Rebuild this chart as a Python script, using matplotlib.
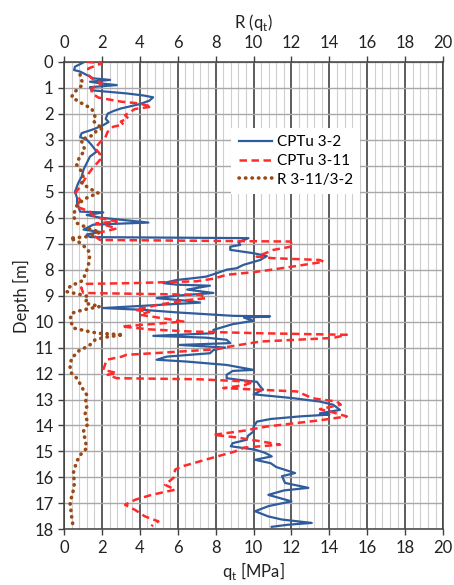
import numpy as np
import matplotlib
matplotlib.use('Agg')
import matplotlib.pyplot as plt
from matplotlib.lines import Line2D
from matplotlib.ticker import MultipleLocator

plt.rcParams['font.family'] = ['Lato', 'DejaVu Sans']

# CPTu 3-2: depth [m], q_t [MPa]
cptu32_depth = [0.0, 0.04, 0.19, 0.32, 0.38, 0.64, 0.70, 0.77, 0.84, 0.90, 0.98, 1.10, 1.22, 1.30,
                1.37, 1.50, 1.63, 1.80, 1.90, 2.00, 2.20, 2.32, 2.45, 2.60, 2.75, 2.90, 3.00, 3.20,
                3.46, 3.65, 3.90, 4.15, 4.42, 4.67, 5.00, 5.25, 5.45, 5.77, 5.80, 5.90, 6.00, 6.19,
                6.27, 6.46, 6.55, 6.65, 6.75, 6.79, 6.95, 7.05, 7.12, 7.24, 7.37, 7.48, 7.63, 7.82,
                7.95, 8.00, 8.14, 8.27, 8.33, 8.40, 8.52, 8.58, 8.62, 8.77, 8.90, 9.00, 9.10, 9.20,
                9.27, 9.48, 9.55, 9.65, 9.78, 9.80, 9.85, 9.97, 10.10, 10.32, 10.45, 10.55, 10.62,
                10.70, 10.83, 10.90, 11.00, 11.10, 11.22, 11.35, 11.47, 11.54, 11.67, 11.86, 11.90,
                12.05, 12.18, 12.25, 12.32, 12.50, 12.62, 12.80, 12.95, 13.08, 13.20, 13.40, 13.53,
                13.58, 13.65, 13.75, 13.85, 14.04, 14.23, 14.40, 14.55, 14.68, 14.80, 14.93, 15.05,
                15.19, 15.32, 15.45, 15.60, 15.83, 15.95, 16.21, 16.40, 16.50, 16.67, 16.92, 17.10,
                17.30, 17.50, 17.62, 17.75, 17.82, 17.90]
cptu32_qt = [0.95, 1.0, 0.58, 0.53, 0.85, 1.55, 2.43, 1.37, 2.0, 2.78, 1.37, 1.45, 3.3, 4.2,
             4.7, 4.5, 4.0, 3.0, 2.6, 2.3, 2.2, 2.35, 2.05, 1.55, 0.93, 0.85, 1.2, 1.45,
             1.72, 1.37, 1.2, 1.03, 0.93, 0.75, 0.58, 0.69, 0.69, 0.85, 2.07, 1.2, 1.9, 4.45,
             1.55, 1.03, 1.9, 1.2, 1.37, 9.73, 9.2, 9.3, 8.77, 8.77, 10.0, 10.7, 10.35, 9.46,
             9.1, 8.6, 8.05, 7.5, 6.83, 5.95, 5.24, 5.95, 7.7, 6.5, 7.88, 6.0, 4.9, 6.5,
             7.18, 2.07, 4.18, 6.0, 8.93, 10.87, 9.5, 10.0, 8.9, 7.88, 7.88, 4.71, 7.5,
             8.58, 8.77, 6.1, 8.5, 7.88, 7.7, 5.42, 4.89, 6.47, 8.58, 10.0, 8.9,
             8.58, 8.58, 9.3, 10.18, 10.35, 10.5, 10.0, 12.1, 13.5, 14.2, 14.56, 13.5,
             14.0, 12.45, 10.9, 10.18, 10.0, 10.0, 9.7, 9.64, 8.9, 8.8, 10.08, 10.6,
             10.96, 10.08, 10.9, 11.2, 12.19, 11.5, 11.66, 12.89, 11.6, 10.78, 12.0, 10.8,
             10.08, 10.78, 11.5, 13.07, 11.8, 10.96]

# CPTu 3-11: depth [m], q_t [MPa]
cptu311_depth = [0.0, 0.06, 0.26, 0.50, 0.64, 0.83, 1.03, 1.20, 1.38, 1.54, 1.60, 1.73, 1.82,
                 2.06, 2.18, 2.30, 2.42, 2.50, 2.70, 2.95, 3.10, 3.33, 3.55, 3.71, 3.78, 4.10,
                 4.40, 4.81, 5.05, 5.32, 5.58, 5.77, 5.90, 6.02, 6.15, 6.22, 6.30, 6.42, 6.57,
                 6.70, 6.86, 6.92, 7.10, 7.24, 7.50, 7.56, 7.63, 7.70, 7.80, 7.88, 8.00, 8.10,
                 8.20, 8.35, 8.45, 8.52, 8.55, 8.70, 8.90, 8.97, 9.10, 9.17, 9.35, 9.55, 9.62,
                 9.74, 9.85, 10.00, 10.19, 10.30, 10.38, 10.45, 10.51, 10.63, 10.77, 10.96,
                 11.08, 11.21, 11.28, 11.35, 11.47, 11.86, 11.98, 12.05, 12.18, 12.22, 12.32,
                 12.45, 12.56, 12.69, 12.85, 12.95, 13.08, 13.20, 13.37, 13.50, 13.65, 13.80,
                 14.04, 14.20, 14.36, 14.45, 14.60, 14.74, 14.85, 15.00, 15.25, 15.58, 15.70,
                 16.00, 16.28, 16.47, 16.67, 16.86, 17.05, 17.25, 17.50, 17.69, 17.80, 17.88]
cptu311_qt = [1.2, 2.0, 1.28, 1.28, 1.46, 1.99, 1.46, 1.46, 1.81, 3.04, 3.92, 4.63, 3.74,
              3.22, 3.39, 3.0, 3.13, 2.6, 2.3, 2.16, 1.9, 1.64, 1.9, 1.81, 1.9, 1.5,
              1.2, 0.85, 0.6, 0.85, 0.67, 1.37, 1.5, 1.9, 2.78, 1.7, 2.25, 2.78, 1.9,
              1.6, 1.9, 11.93, 12.1, 11.06, 10.17, 11.0, 13.5, 13.7, 12.8, 12.1, 11.0, 10.0,
              8.58, 7.88, 7.0, 3.66, 1.2, 0.9, 1.02, 7.18, 7.5, 6.56, 5.0, 3.75, 4.5,
              4.0, 5.0, 6.3, 3.04, 4.5, 6.56, 10.35, 14.92, 14.2, 10.35, 8.76,
              7.79, 4.89, 3.3, 3.04, 2.25, 2.07, 2.78, 2.3, 2.78, 7.09, 10.0,
              9.5, 8.4, 12.28, 12.8, 13.07, 14.4, 14.6, 13.5, 14.2, 14.92, 13.5,
              10.7, 9.5, 7.88, 9.0, 10.3, 11.4, 9.5, 9.02, 7.79, 6.2, 5.86,
              5.8, 5.33, 5.86, 4.62, 3.75, 3.22, 3.75, 4.27, 4.98, 4.7, 4.62]

# ratio R = q_t(3-11) / q_t(3-2)
ratio_depth = [0.50, 0.64, 0.80, 0.92, 1.15, 1.35, 1.50, 1.67, 1.80, 2.10, 2.28, 2.45, 2.56,
               2.65, 2.82, 3.00, 3.20, 3.40, 3.70, 3.97, 4.20, 4.40, 4.68, 4.90, 5.06, 5.20,
               5.32, 5.50, 5.70, 5.95, 6.21, 6.35, 6.47, 6.55, 6.73, 6.79, 6.95, 7.24, 7.50,
               7.88, 8.20, 8.40, 8.52, 8.59, 8.75, 8.85, 8.95, 9.04, 9.29, 9.42, 9.55, 9.68,
               9.93, 10.25, 10.38, 10.45, 10.51, 10.60, 10.70, 10.96, 11.08, 11.28, 11.40,
               11.73, 11.95, 12.18, 12.40, 12.63, 12.82, 13.05, 13.27, 13.60, 13.91, 14.23,
               14.50, 14.87, 15.10, 15.38, 15.83, 16.21, 16.50, 16.98, 17.50, 17.94]
ratio_r = [0.85, 0.85, 1.0, 0.93, 0.58, 0.4, 0.7, 1.1, 1.46, 1.63, 1.55, 1.8, 2.07,
           1.72, 1.55, 0.9, 1.0, 1.1, 0.8, 0.67, 0.9, 1.0, 0.93, 1.4, 1.81, 1.3,
           1.02, 0.7, 0.58, 0.5, 0.67, 1.1, 1.46, 1.9, 1.28, 0.32, 0.8, 1.28, 1.35,
           1.28, 1.1, 1.02, 0.75, 0.4, 0.2, 0.14, 0.8, 1.28, 1.1, 1.9, 1.0, 0.4,
           0.32, 0.5, 1.28, 1.8, 3.13, 2.2, 1.64, 1.28, 0.85, 0.58, 0.4,
           0.32, 0.35, 0.67, 0.85, 1.02, 1.2, 1.15, 1.2, 1.1, 1.28, 1.02,
           1.1, 1.2, 0.9, 0.67, 0.49, 0.55, 0.49, 0.32, 0.4, 0.49]

labels = ['CPTu 3-2', 'CPTu 3-11', 'R 3-11/3-2']
c_blue = '#2F5C9C'
c_red = '#FF2A2A'
c_brown = '#9B4A17'
dash_red = (0, (3, 1.8))
dot_brown = (0, (0.1, 1.7))

fig = plt.figure(figsize=(4.54, 5.85), dpi=100)
ax = fig.add_axes([0.141, 0.095, 0.835, 0.7995])

ax.set_xlim(0, 20)
ax.set_ylim(18, 0)
ax.xaxis.set_major_locator(MultipleLocator(2))
ax.xaxis.set_minor_locator(MultipleLocator(0.4))
ax.yaxis.set_major_locator(MultipleLocator(1))

ax.grid(which='minor', axis='x', color='#CFCFCF', lw=0.8)
ax.grid(which='major', axis='x', color='#303030', lw=1.1)
ax.grid(which='major', axis='y', color='#A8A8A8', lw=1.0)
ax.set_axisbelow(True)
for s in ax.spines.values():
    s.set_color('#404040')
    s.set_linewidth(1.1)

ax.tick_params(which='major', length=4, width=1, color='#404040', labelsize=12,
               labelcolor='#222222')
ax.tick_params(which='minor', length=0)

ax.plot(cptu32_qt, cptu32_depth, color=c_blue, lw=1.6, zorder=3)
ax.plot(cptu311_qt, cptu311_depth, color=c_red, lw=1.8, ls=dash_red, zorder=3)

ax.set_xlabel('q$_\\mathregular{t}$ [MPa]', fontsize=12, color='#222222', labelpad=3)
ax.set_ylabel('Depth [m]', fontsize=12, color='#222222', labelpad=3)

ax2 = ax.twiny()
ax2.set_xlim(0, 20)
ax2.xaxis.set_major_locator(MultipleLocator(2))
ax2.tick_params(length=4, width=1, color='#404040', labelsize=12, labelcolor='#222222')
for s in ax2.spines.values():
    s.set_visible(False)
ax2.plot(ratio_r, ratio_depth, color=c_brown, lw=2.6, ls=dot_brown,
         dash_capstyle='round', zorder=3)
ax2.set_xlabel('R (q$_\\mathregular{t}$)', fontsize=12, color='#222222', labelpad=5)

handles = [Line2D([], [], color=c_blue, lw=1.6),
           Line2D([], [], color=c_red, lw=1.8, ls=dash_red),
           Line2D([], [], color=c_brown, lw=2.6, ls=dot_brown, dash_capstyle='round')]
leg = ax2.legend(handles, labels, loc='upper left', bbox_to_anchor=(0.42, 0.875),
                 frameon=True, fancybox=False, edgecolor='none', facecolor='white',
                 framealpha=1, fontsize=11, handlelength=2.2, handletextpad=0.3,
                 labelspacing=0.3, borderpad=0.5)

fig.savefig('out.png', dpi=100)
